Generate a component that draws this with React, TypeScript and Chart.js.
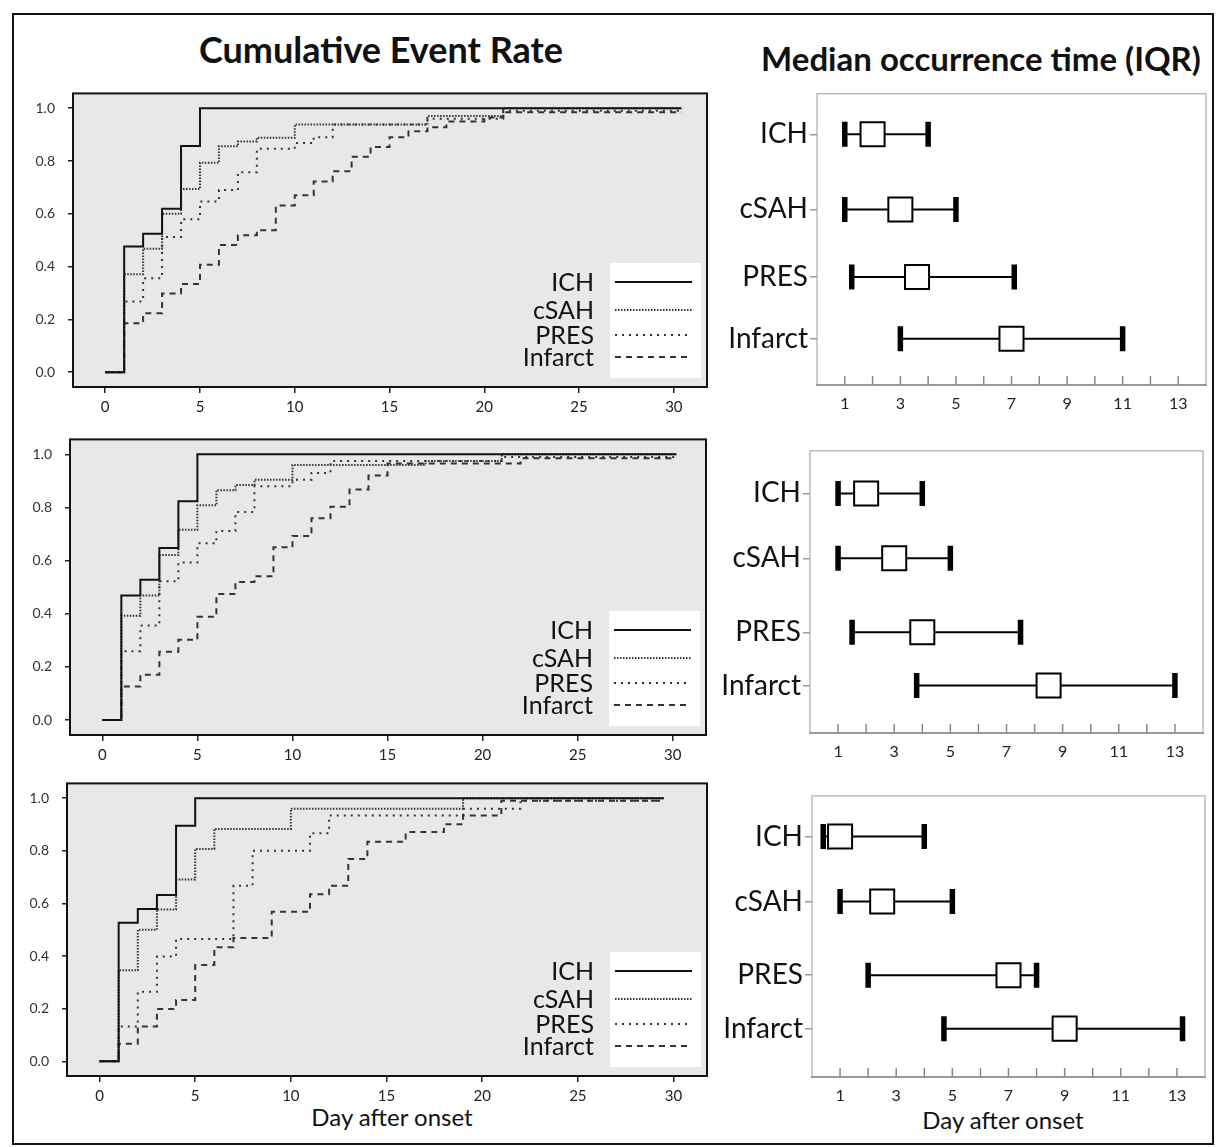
import React, { useEffect, useRef } from 'react';
import { Chart, registerables } from 'chart.js';
Chart.register(...registerables);

const FONT = 'Lato, "Open Sans", sans-serif';
Chart.defaults.font.family = FONT;

// ---------- shared ----------
const SERIES_NAMES = ['ICH', 'cSAH', 'PRES', 'Infarct'];
const STEP_X_TICKS = [0, 5, 10, 15, 20, 25, 30];
const STEP_Y_TICKS = [0, 0.2, 0.4, 0.6, 0.8, 1.0];
const RIGHT_X_LABELS = [1, 3, 5, 7, 9, 11, 13];
const RIGHT_X_MINOR = [1, 2, 3, 4, 5, 6, 7, 8, 9, 10, 11, 12, 13];

// ---------- cumulative event rate, panel 1 ----------
const P1_ICH_DAYS = [0, 1, 2, 3, 4, 5, 30.4];
const P1_ICH_RATE = [0, 0.476, 0.524, 0.619, 0.857, 1.0, 1.0];
const P1_CSAH_DAYS = [0, 1, 2, 3, 4, 5, 6, 7, 8, 10, 17, 21, 30.4];
const P1_CSAH_RATE = [0, 0.371, 0.468, 0.6, 0.694, 0.793, 0.856, 0.874, 0.888, 0.938, 0.97, 1.0, 1.0];
const P1_PRES_DAYS = [0, 1, 2, 3, 4, 5, 6, 7, 8, 10, 11, 12, 17, 21, 30.4];
const P1_PRES_RATE = [0, 0.268, 0.356, 0.512, 0.579, 0.647, 0.69, 0.757, 0.846, 0.868, 0.89, 0.938, 0.96, 0.99, 0.99];
const P1_INF_DAYS = [0, 1, 2, 3, 4, 5, 6, 7, 8, 9, 10, 11, 12, 13, 14, 15, 16, 17, 18, 20, 21, 30.4];
const P1_INF_RATE = [0, 0.185, 0.223, 0.298, 0.334, 0.407, 0.482, 0.519, 0.538, 0.631, 0.67, 0.722, 0.761, 0.816, 0.853, 0.89, 0.913, 0.928, 0.95, 0.965, 0.985, 0.985];

// ---------- panel 2 ----------
const P2_ICH_DAYS = [0, 1, 2, 3, 4, 5, 30.2];
const P2_ICH_RATE = [0, 0.469, 0.528, 0.647, 0.823, 1.0, 1.0];
const P2_CSAH_DAYS = [0, 1, 2, 3, 4, 5, 6, 7, 8, 10, 17, 21, 30.2];
const P2_CSAH_RATE = [0, 0.393, 0.469, 0.621, 0.716, 0.808, 0.865, 0.884, 0.904, 0.96, 0.975, 1.0, 1.0];
const P2_PRES_DAYS = [0, 1, 2, 3, 4, 5, 6, 7, 8, 10, 11, 12, 21, 30.2];
const P2_PRES_RATE = [0, 0.259, 0.356, 0.522, 0.593, 0.665, 0.711, 0.783, 0.88, 0.904, 0.93, 0.975, 0.99, 0.99];
const P2_INF_DAYS = [0, 1, 2, 3, 4, 5, 6, 7, 8, 9, 10, 11, 12, 13, 14, 15, 22, 30.2];
const P2_INF_RATE = [0, 0.126, 0.171, 0.257, 0.302, 0.389, 0.474, 0.52, 0.541, 0.65, 0.693, 0.759, 0.803, 0.868, 0.92, 0.965, 0.985, 0.985];

// ---------- panel 3 ----------
const P3_ICH_DAYS = [0, 1, 2, 3, 4, 5, 29.5];
const P3_ICH_RATE = [0, 0.526, 0.579, 0.632, 0.895, 1.0, 1.0];
const P3_CSAH_DAYS = [0, 1, 2, 3, 4, 5, 6, 10, 19, 29.5];
const P3_CSAH_RATE = [0, 0.346, 0.5, 0.577, 0.691, 0.807, 0.883, 0.96, 1.0, 1.0];
const P3_PRES_DAYS = [0, 1, 2, 3, 4, 7, 8, 11, 12, 19, 22, 29.5];
const P3_PRES_RATE = [0, 0.132, 0.264, 0.398, 0.465, 0.667, 0.8, 0.867, 0.934, 0.96, 0.99, 0.99];
const P3_INF_DAYS = [0, 1, 2, 3, 4, 5, 6, 7, 9, 11, 12, 13, 14, 16, 18, 19, 21, 29.5];
const P3_INF_RATE = [0, 0.067, 0.132, 0.199, 0.233, 0.366, 0.433, 0.468, 0.568, 0.635, 0.667, 0.769, 0.834, 0.871, 0.901, 0.934, 0.99, 0.99];

// ---------- median occurrence time (IQR) ----------
const R1_LOW = [1, 1, 1.25, 3];
const R1_MEDIAN = [2, 3, 3.6, 7];
const R1_HIGH = [4, 5, 7.1, 11];
const R1_ROW_POS = [8.61, 6.03, 3.71, 1.59];

const R2_LOW = [1, 1, 1.5, 3.8];
const R2_MEDIAN = [2, 3, 4, 8.5];
const R2_HIGH = [4, 5, 7.5, 13];
const R2_ROW_POS = [8.49, 6.19, 3.57, 1.68];

const R3_LOW = [0.4, 1, 2, 4.7];
const R3_MEDIAN = [1, 2.5, 7, 9];
const R3_HIGH = [4, 5, 8, 13.2];
const R3_ROW_POS = [8.55, 6.24, 3.62, 1.72];

// ---------- styles ----------
const LINE_COLORS = ['#111', '#333', '#333', '#333'];
const LINE_DASHES = [[], [1.5, 1.5], [2, 5], [6, 5]];

type Rect = { x: number; y: number; w: number; h: number };
type Area = { l: number; t: number; r: number; b: number };

function layoutFor(rect: Rect, area: Area) {
  return {
    padding: { left: 0, top: area.t - rect.y, right: rect.x + rect.w - area.r, bottom: 0 },
    yWidth: area.l - rect.x,
    xHeight: rect.y + rect.h - area.b,
  };
}

function stepConfig(days: number[][], rates: number[][], rect: Rect, area: Area): any {
  const lay = layoutFor(rect, area);
  const datasets = SERIES_NAMES.map((name, i) => ({
    label: name,
    data: days[i].map((d, j) => ({ x: d, y: rates[i][j] })),
    stepped: 'before',
    borderColor: LINE_COLORS[i],
    borderWidth: 2,
    borderDash: LINE_DASHES[i],
    pointRadius: 0,
    fill: false,
  }));
  const panelPlugin = {
    id: 'panelDeco',
    beforeDraw(chart: any) {
      const { ctx, chartArea: a } = chart;
      ctx.save();
      ctx.fillStyle = '#e8e8e8';
      ctx.fillRect(a.left, a.top, a.right - a.left, a.bottom - a.top);
      ctx.restore();
    },
    afterDraw(chart: any) {
      const { ctx, chartArea: a } = chart;
      ctx.save();
      ctx.strokeStyle = '#111';
      ctx.lineWidth = 2;
      ctx.strokeRect(a.left, a.top, a.right - a.left, a.bottom - a.top);
      // legend
      const bw = 91, bh = 115;
      const bx = a.right - 6 - bw;
      const by = a.bottom - 9 - bh;
      ctx.fillStyle = '#fff';
      ctx.fillRect(bx, by, bw, bh);
      const rows = [19, 47, 72, 94];
      ctx.font = `25px ${FONT}`;
      ctx.textAlign = 'right';
      ctx.textBaseline = 'middle';
      SERIES_NAMES.forEach((name, i) => {
        const yy = by + rows[i];
        ctx.fillStyle = '#111';
        ctx.fillText(name, bx - 16, yy + 1);
        ctx.beginPath();
        ctx.setLineDash(LINE_DASHES[i]);
        ctx.strokeStyle = LINE_COLORS[i];
        ctx.lineWidth = 2;
        ctx.moveTo(bx + 5, yy);
        ctx.lineTo(bx + 82, yy);
        ctx.stroke();
      });
      ctx.restore();
    },
  };
  return {
    type: 'line',
    data: { datasets },
    plugins: [panelPlugin],
    options: {
      animation: false,
      responsive: false,
      events: [],
      layout: { padding: lay.padding, autoPadding: false },
      plugins: { legend: { display: false }, tooltip: { enabled: false } },
      scales: {
        x: {
          type: 'linear',
          min: -1.7,
          max: 31.75,
          afterBuildTicks: (s: any) => { s.ticks = STEP_X_TICKS.map((v) => ({ value: v })); },
          afterFit: (s: any) => { s.height = lay.xHeight; },
          grid: { drawOnChartArea: false, drawTicks: true, tickLength: 6, color: '#222', lineWidth: 1.5 },
          border: { display: false },
          ticks: { padding: 5, font: { size: 15 }, color: '#222', maxRotation: 0, autoSkip: false, callback: (v: any) => String(v) },
        },
        y: {
          type: 'linear',
          min: -0.056,
          max: 1.056,
          afterBuildTicks: (s: any) => { s.ticks = STEP_Y_TICKS.map((v) => ({ value: v })); },
          afterFit: (s: any) => { s.width = lay.yWidth; },
          grid: { drawOnChartArea: false, drawTicks: true, tickLength: 5, color: '#222', lineWidth: 1.5 },
          border: { display: false },
          ticks: { padding: 13, font: { size: 14 }, color: '#333', autoSkip: false, callback: (v: any) => Number(v).toFixed(1) },
        },
      },
    },
  };
}

function iqrConfig(low: number[], med: number[], high: number[], pos: number[], rect: Rect, area: Area): any {
  const lay = layoutFor(rect, area);
  const whiskers = SERIES_NAMES.map((name, i) => ({
    label: name,
    data: [{ x: low[i], y: pos[i] }, { x: high[i], y: pos[i] }],
    showLine: true,
    borderColor: '#000',
    borderWidth: 2,
    pointStyle: 'line',
    pointRotation: 90,
    pointRadius: 12.5,
    pointBorderWidth: 5.5,
    pointBorderColor: '#000',
    pointBackgroundColor: '#000',
    order: 2,
  }));
  const medians = {
    label: 'median',
    data: med.map((m, i) => ({ x: m, y: pos[i] })),
    showLine: false,
    pointStyle: 'rect',
    pointRadius: 17,
    pointBackgroundColor: '#fff',
    pointBorderColor: '#000',
    pointBorderWidth: 2,
    order: 1,
  };
  const deco = {
    id: 'iqrDeco',
    beforeDraw(chart: any) {
      const { ctx, chartArea: a } = chart;
      ctx.save();
      ctx.strokeStyle = '#bdbdbd';
      ctx.lineWidth = 1.5;
      ctx.strokeRect(a.left, a.top, a.right - a.left, a.bottom - a.top);
      ctx.restore();
    },
    afterDraw(chart: any) {
      const { ctx, chartArea: a, scales } = chart;
      ctx.save();
      ctx.strokeStyle = '#888';
      ctx.lineWidth = 1.5;
      RIGHT_X_MINOR.forEach((v) => {
        const px = scales.x.getPixelForValue(v);
        ctx.beginPath();
        ctx.moveTo(px, a.bottom);
        ctx.lineTo(px, a.bottom - 9);
        ctx.stroke();
      });
      ctx.restore();
    },
  };
  return {
    type: 'scatter',
    data: { datasets: [...whiskers, medians] },
    plugins: [deco],
    options: {
      animation: false,
      responsive: false,
      events: [],
      layout: { padding: lay.padding, autoPadding: false },
      plugins: { legend: { display: false }, tooltip: { enabled: false } },
      scales: {
        x: {
          type: 'linear',
          min: 0,
          max: 14,
          afterBuildTicks: (s: any) => { s.ticks = RIGHT_X_LABELS.map((v) => ({ value: v })); },
          afterFit: (s: any) => { s.height = lay.xHeight; },
          grid: { drawOnChartArea: false, drawTicks: false },
          border: { display: true, color: '#999', width: 2 },
          ticks: { padding: 9, font: { size: 16 }, color: '#222', maxRotation: 0, autoSkip: false, callback: (v: any) => String(v) },
        },
        y: {
          type: 'linear',
          min: 0,
          max: 10,
          afterBuildTicks: (s: any) => { s.ticks = pos.map((v) => ({ value: v })); },
          afterFit: (s: any) => { s.width = lay.yWidth; },
          grid: { drawOnChartArea: false, drawTicks: true, tickLength: 7, color: '#999', lineWidth: 1.5 },
          border: { display: false },
          ticks: { padding: 2, font: { size: 28 }, color: '#111', autoSkip: false, callback: (_v: any, idx: number) => SERIES_NAMES[idx] },
        },
      },
    },
  };
}

function ChartBox({ rect, make }: { rect: Rect; make: () => any }) {
  const ref = useRef<HTMLCanvasElement | null>(null);
  useEffect(() => {
    if (!ref.current) return;
    const chart = new Chart(ref.current, make());
    return () => chart.destroy();
  }, []);
  return (
    <canvas
      ref={ref}
      width={rect.w}
      height={rect.h}
      style={{ position: 'absolute', left: rect.x, top: rect.y, width: rect.w, height: rect.h }}
    />
  );
}

const textStyle = (left: number, top: number, width: number, size: number, bold: boolean): React.CSSProperties => ({
  position: 'absolute',
  left,
  top,
  width,
  textAlign: 'center',
  fontFamily: FONT,
  fontSize: size,
  fontWeight: bold ? 700 : 400,
  lineHeight: '40px',
  color: '#111',
  whiteSpace: 'nowrap',
});

export default function App() {
  const L1: Rect = { x: 14, y: 72, w: 700, h: 350 };
  const L2: Rect = { x: 14, y: 418, w: 700, h: 350 };
  const L3: Rect = { x: 14, y: 762, w: 700, h: 350 };
  const R1: Rect = { x: 715, y: 75, w: 498, h: 340 };
  const R2: Rect = { x: 715, y: 432, w: 498, h: 330 };
  const R3: Rect = { x: 715, y: 777, w: 498, h: 330 };
  return (
    <div style={{ position: 'absolute', left: 0, top: 0, width: 1216, height: 1147, background: '#fff', overflow: 'hidden' }}>
      <div style={{ position: 'absolute', left: 12, top: 13, width: 1202, height: 1132, border: '2px solid #111', boxSizing: 'border-box' }} />
      <div style={textStyle(131, 29, 500, 36, true)}>Cumulative Event Rate</div>
      <div style={textStyle(731, 38, 500, 33, true)}>Median occurrence time (IQR)</div>
      <div style={textStyle(192, 1097, 400, 24, false)}>Day after onset</div>
      <div style={textStyle(803, 1100, 400, 24, false)}>Day after onset</div>
      <ChartBox
        rect={L1}
        make={() => stepConfig(
          [P1_ICH_DAYS, P1_CSAH_DAYS, P1_PRES_DAYS, P1_INF_DAYS],
          [P1_ICH_RATE, P1_CSAH_RATE, P1_PRES_RATE, P1_INF_RATE],
          L1, { l: 73, t: 82, r: 707, b: 387 })}
      />
      <ChartBox
        rect={L2}
        make={() => stepConfig(
          [P2_ICH_DAYS, P2_CSAH_DAYS, P2_PRES_DAYS, P2_INF_DAYS],
          [P2_ICH_RATE, P2_CSAH_RATE, P2_PRES_RATE, P2_INF_RATE],
          L2, { l: 70, t: 428, r: 706, b: 735 })}
      />
      <ChartBox
        rect={L3}
        make={() => stepConfig(
          [P3_ICH_DAYS, P3_CSAH_DAYS, P3_PRES_DAYS, P3_INF_DAYS],
          [P3_ICH_RATE, P3_CSAH_RATE, P3_PRES_RATE, P3_INF_RATE],
          L3, { l: 67, t: 772, r: 707, b: 1076 })}
      />
      <ChartBox rect={R1} make={() => iqrConfig(R1_LOW, R1_MEDIAN, R1_HIGH, R1_ROW_POS, R1, { l: 817, t: 83, r: 1206, b: 385 })} />
      <ChartBox rect={R2} make={() => iqrConfig(R2_LOW, R2_MEDIAN, R2_HIGH, R2_ROW_POS, R2, { l: 810, t: 442, r: 1203, b: 733 })} />
      <ChartBox rect={R3} make={() => iqrConfig(R3_LOW, R3_MEDIAN, R3_HIGH, R3_ROW_POS, R3, { l: 812, t: 787, r: 1205, b: 1077 })} />
    </div>
  );
}
